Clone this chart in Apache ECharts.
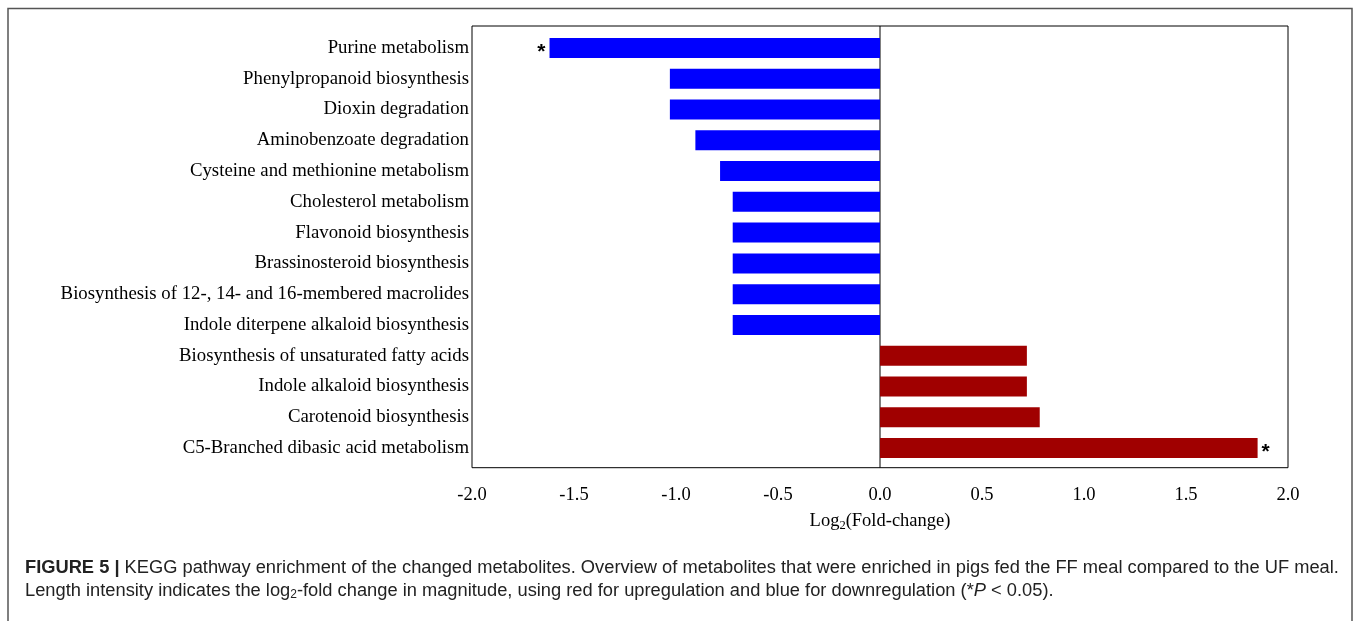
<!DOCTYPE html>
<html>
<head>
<meta charset="utf-8">
<script src="https://cdn.jsdelivr.net/npm/echarts@6/dist/echarts.min.js"></script>
<style>
html,body{margin:0;padding:0;background:#fff;}
#chart{width:1357px;height:621px;}
</style>
</head>
<body>
<div id="chart"></div>
<script>
var categories = [
  "Purine metabolism",
  "Phenylpropanoid biosynthesis",
  "Dioxin degradation",
  "Aminobenzoate degradation",
  "Cysteine and methionine metabolism",
  "Cholesterol metabolism",
  "Flavonoid biosynthesis",
  "Brassinosteroid biosynthesis",
  "Biosynthesis of 12-, 14- and 16-membered macrolides",
  "Indole diterpene alkaloid biosynthesis",
  "Biosynthesis of unsaturated fatty acids",
  "Indole alkaloid biosynthesis",
  "Carotenoid biosynthesis",
  "C5-Branched dibasic acid metabolism"
];
var log2FC = [-1.62, -1.03, -1.03, -0.905, -0.784, -0.722, -0.722, -0.722, -0.722, -0.722, 0.72, 0.72, 0.783, 1.851];
var significant = [true, false, false, false, false, false, false, false, false, false, false, false, false, true];
var xTicks = [-2.0, -1.5, -1.0, -0.5, 0.0, 0.5, 1.0, 1.5, 2.0];

var chart = echarts.init(document.getElementById('chart'));
var serif = '"Liberation Serif", "DejaVu Serif", serif';
var sans = '"Liberation Sans", Arial, sans-serif';

var barData = log2FC.map(function (v, i) {
  return {
    value: v,
    itemStyle: { color: v < 0 ? '#0000ff' : '#a00000' },
    label: {
      show: significant[i],
      position: v < 0 ? 'left' : 'right',
      distance: 4,
      formatter: '*',
      color: '#000',
      fontWeight: 'bold',
      fontSize: 21,
      fontFamily: sans,
      offset: [0, 4]
    }
  };
});

var frameTop = 26, frameBottom = 467.7;

chart.setOption({
  animation: false,
  backgroundColor: '#fff',
  grid: { left: 472, right: 69, top: 32.5, bottom: 157.5 },
  xAxis: {
    type: 'value',
    min: -2, max: 2, interval: 0.5,
    axisLine: { show: false },
    axisTick: { show: false },
    splitLine: { show: false },
    axisLabel: {
      margin: 22.5,
      fontFamily: serif, fontSize: 18.5, color: '#000',
      formatter: function (v) { return v.toFixed(1); }
    },
    name: '{a|Log}{s|2}{a|(Fold-change)}',
    nameLocation: 'middle',
    nameGap: 46.5,
    nameTextStyle: {
      rich: {
        a: { fontFamily: serif, fontSize: 18.5, color: '#000' },
        s: { fontFamily: serif, fontSize: 12.5, color: '#000', padding: [9, 0, 0, 0] }
      }
    }
  },
  yAxis: {
    type: 'category',
    data: categories,
    inverse: true,
    axisLine: { show: false },
    axisTick: { show: false },
    splitLine: { show: false },
    axisLabel: { margin: 3, fontFamily: serif, fontSize: 18.8, color: '#000' }
  },
  series: [{
    type: 'bar',
    data: barData,
    barWidth: 20
  }]
});

var x0 = chart.convertToPixel({ xAxisIndex: 0 }, 0);
var xL = chart.convertToPixel({ xAxisIndex: 0 }, -2);
var xR = chart.convertToPixel({ xAxisIndex: 0 }, 2);

chart.setOption({
  graphic: [
    {
      type: 'polyline',
      shape: { points: [[8, 621], [8, 8.5], [1352, 8.5], [1352, 621]] },
      style: { stroke: '#555', lineWidth: 1.5, fill: null },
      silent: true
    },
    {
      type: 'rect',
      shape: { x: xL, y: frameTop, width: xR - xL, height: frameBottom - frameTop },
      style: { stroke: '#000', lineWidth: 1, fill: null },
      silent: true
    },
    {
      type: 'line',
      shape: { x1: x0, y1: frameTop, x2: x0, y2: frameBottom },
      style: { stroke: '#000', lineWidth: 1 },
      silent: true
    },
    {
      type: 'text',
      left: 25, top: 559,
      style: {
        text: '{b|FIGURE 5 |}{n| KEGG pathway enrichment of the changed metabolites. Overview of metabolites that were enriched in pigs fed the FF meal compared to the UF meal.}',
        rich: {
          b: { fontFamily: sans, fontSize: 18.3, fontWeight: 'bold', fill: '#222' },
          n: { fontFamily: sans, fontSize: 18.3, fill: '#222' }
        }
      }
    },
    {
      type: 'text',
      left: 25, top: 582,
      style: {
        text: '{n|Length intensity indicates the log}{s|2}{n|-fold change in magnitude, using red for upregulation and blue for downregulation (*}{i|P}{n| < 0.05).}',
        rich: {
          n: { fontFamily: sans, fontSize: 18.3, fill: '#222' },
          s: { fontFamily: sans, fontSize: 12, fill: '#222', padding: [8, 0, 0, 0] },
          i: { fontFamily: sans, fontSize: 18.3, fontStyle: 'italic', fill: '#222' }
        }
      }
    }
  ]
});
</script>
</body>
</html>
